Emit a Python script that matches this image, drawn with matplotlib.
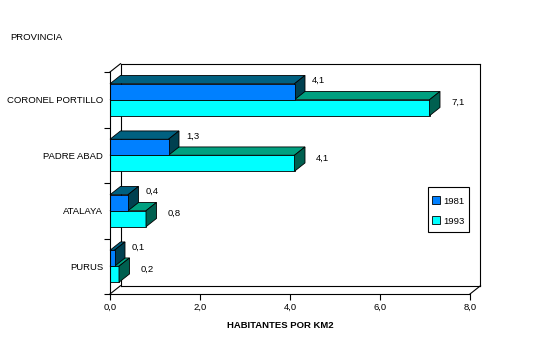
import matplotlib
matplotlib.use("Agg")
import matplotlib.pyplot as plt
from matplotlib.patches import Polygon, Rectangle
from matplotlib.lines import Line2D

# ---- data ----
categories = ["CORONEL PORTILLO", "PADRE ABAD", "ATALAYA", "PURUS"]
series_names = ["1981", "1993"]
values_1981 = [4.1, 1.3, 0.4, 0.1]
values_1993 = [7.1, 4.1, 0.8, 0.2]
x_ticks = [0, 2, 4, 6, 8]
x_tick_labels = ["0,0", "2,0", "4,0", "6,0", "8,0"]
x_title = "HABITANTES POR KM2"
y_title = "PROVINCIA"

# ---- style ----
plt.rcParams['font.family'] = ['Liberation Sans', 'DejaVu Sans']
FS = 6.8
W, H = 540, 351
fig = plt.figure(figsize=(W / 100, H / 100), dpi=100)
fig.patch.set_facecolor("white")

# front plane in pixels: x 110..470, y 72..294
ax = fig.add_axes([110 / W, (H - 294) / H, 360 / W, 222 / H])
ax.set_xlim(0, 8)
ax.set_ylim(0, 4)
ax.set_facecolor("none")

px_x = 8 / 360.0   # data units per pixel (x)
px_y = 4 / 222.0   # data units per pixel (y)
DX = 10.5 * px_x
DY = 8.3 * px_y
BH = 16 * px_y     # bar thickness

cols = {
    "1981": dict(front="#0080FF", top="#006080", side="#004050"),
    "1993": dict(front="#00FFFF", top="#00A080", side="#006050"),
}
ec = "black"
lw = 0.6

# --- walls / floor (3D frame) ---
frame_kw = dict(color="black", lw=0.8, clip_on=False, zorder=1)
ax.plot([DX, DX], [DY, 4 + DY], **frame_kw)
ax.plot([DX, 8 + DX], [4 + DY, 4 + DY], **frame_kw)
ax.plot([8 + DX, 8 + DX], [DY, 4 + DY], **frame_kw)
ax.plot([DX, 8 + DX], [DY, DY], **frame_kw)
ax.plot([0, DX], [4, 4 + DY], **frame_kw)
ax.plot([0, DX], [0, DY], **frame_kw)
ax.plot([8, 8 + DX], [0, DY], **frame_kw)

n = len(categories)
centers = [n - i - 0.5 for i in range(n)]


def top_face(v, ytop, color, z):
    p = Polygon([(0, ytop), (v, ytop), (v + DX, ytop + DY), (DX, ytop + DY)],
                closed=True, facecolor=color, edgecolor=ec, lw=lw, zorder=z,
                clip_on=False)
    ax.add_patch(p)


def side_face(v, ybot, ytop, color, z):
    p = Polygon([(v, ybot), (v, ytop), (v + DX, ytop + DY), (v + DX, ybot + DY)],
                closed=True, facecolor=color, edgecolor=ec, lw=lw, zorder=z,
                clip_on=False)
    ax.add_patch(p)


fmt = lambda v: f"{v:.1f}".replace(".", ",")

# 1993 (lower bar) top face first, then 1981 bar, then 1993 front/side
for c, v93 in zip(centers, values_1993):
    top_face(v93, c, cols["1993"]["top"], 2)

for c, v81 in zip(centers, values_1981):
    top_face(v81, c + BH, cols["1981"]["top"], 3)
    side_face(v81, c, c + BH, cols["1981"]["side"], 4)
ax.barh([c for c in centers], values_1981, height=BH, align="edge",
        color=cols["1981"]["front"], edgecolor=ec, linewidth=lw, zorder=4)

ax.barh([c - BH for c in centers], values_1993, height=BH, align="edge",
        color=cols["1993"]["front"], edgecolor=ec, linewidth=lw, zorder=5)
for c, v93 in zip(centers, values_1993):
    side_face(v93, c - BH, c, cols["1993"]["side"], 6)

# value labels
for c, v81, v93 in zip(centers, values_1981, values_1993):
    ax.text(v81 + DX + 7 * px_x, c + BH + 3 * px_y, fmt(v81), ha="left",
            va="center", fontsize=FS, zorder=7, clip_on=False)
    ax.text(v93 + DX + 11 * px_x, c - BH / 2 + 5 * px_y, fmt(v93), ha="left",
            va="center", fontsize=FS, zorder=7, clip_on=False)

# axes / ticks
for s in ["top", "right"]:
    ax.spines[s].set_visible(False)
for s in ["left", "bottom"]:
    ax.spines[s].set_linewidth(0.8)
    ax.spines[s].set_zorder(8)

ax.set_xticks(x_ticks)
ax.set_xticklabels(x_tick_labels, fontsize=FS)
ax.tick_params(axis="x", direction="out", length=4, width=0.8, pad=2)

ax.set_yticks(range(0, n + 1))
ax.set_yticklabels([])
ax.tick_params(axis="y", which="major", direction="out", length=4, width=0.8)
ax.set_yticks(centers, minor=True)
ax.set_yticklabels(categories, minor=True, fontsize=FS)
ax.tick_params(axis="y", which="minor", length=0, pad=5)

fig.text(280 / W, 1 - 325 / H, x_title, ha="center", va="center",
         fontsize=FS, fontweight="bold")
fig.text(10 / W, 1 - 38 / H, y_title, ha="left", va="center", fontsize=FS)

# legend (frame drawn as a rectangle box, entries via legend)
fig.patches.append(Rectangle((428 / W, 1 - 232 / H), 41 / W, 45 / H,
                             transform=fig.transFigure, facecolor="white",
                             edgecolor="black", lw=0.8, zorder=9))
handles = [Line2D([], [], linestyle="none", marker="s", markersize=5.6,
                  markerfacecolor=cols[s]["front"], markeredgecolor="black",
                  markeredgewidth=0.6)
           for s in series_names]
leg = fig.legend(handles, series_names, loc="upper left",
                 bbox_to_anchor=(428 / W, 1 - 192.5 / H), fontsize=FS,
                 frameon=False, borderpad=0.44, labelspacing=1.15,
                 handlelength=0.85, handleheight=0.85, handletextpad=0.32,
                 borderaxespad=0)
leg.set_zorder(10)

fig.savefig("out.png", dpi=100, facecolor="white")
